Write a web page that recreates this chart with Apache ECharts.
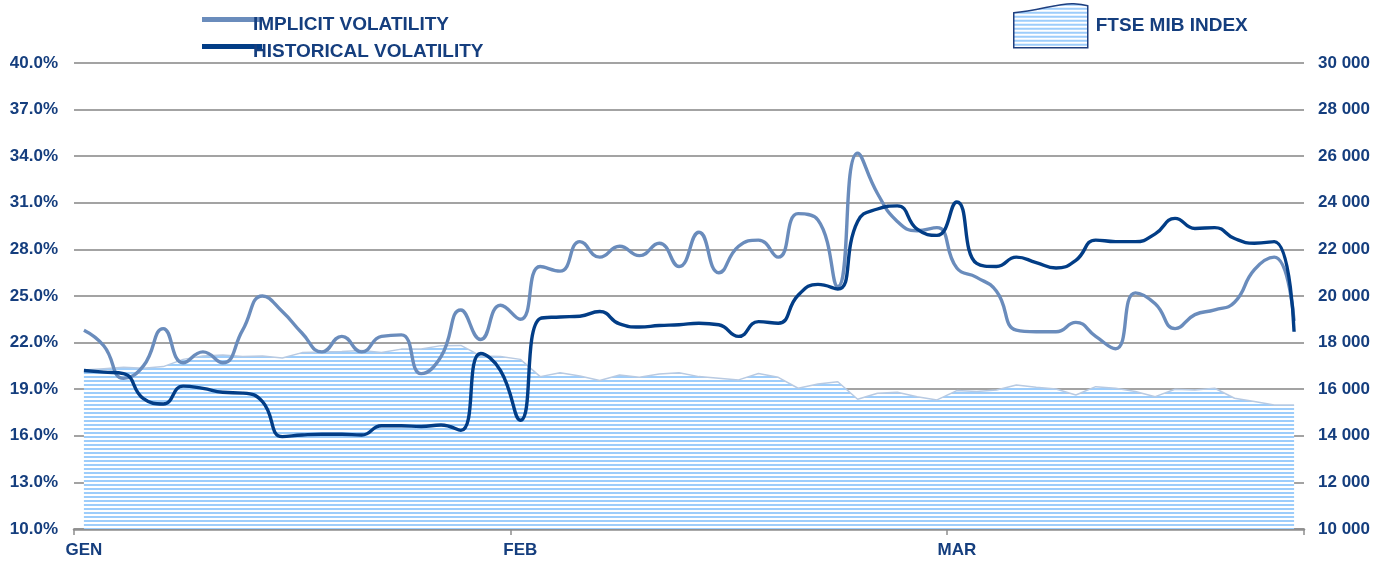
<!DOCTYPE html>
<html>
<head>
<meta charset="utf-8">
<script src="https://cdn.jsdelivr.net/npm/echarts@6/dist/echarts.min.js"></script>
<style>
  html, body { margin: 0; padding: 0; background: #ffffff; }
  #chart { width: 1385px; height: 561px; }
</style>
</head>
<body>
<div id="chart"></div>
<script>
// ---- data ----
const categories = [
  '02/01','03/01','04/01','05/01','06/01','09/01','10/01','11/01','12/01','13/01','16/01',
  '17/01','18/01','19/01','20/01','23/01','24/01','25/01','26/01','27/01','30/01','31/01',
  '01/02','02/02','03/02','06/02','07/02','08/02','09/02','10/02','13/02','14/02','15/02',
  '16/02','17/02','20/02','21/02','22/02','23/02','24/02','27/02','28/02','29/02',
  '01/03','02/03','05/03','06/03','07/03','08/03','09/03','12/03','13/03','14/03','15/03',
  '16/03','19/03','20/03','21/03','22/03','23/03','26/03','27/03'
];
const monthLabels = ['GEN', 'FEB', 'MAR'];

const implicitVol = [
  22.8, 21.8, 19.7, 20.5, 22.9, 20.7, 21.4, 20.7, 22.8, 25.0, 24.0,
  22.6, 21.4, 22.4, 21.4, 22.4, 22.5, 20.0, 21.1, 24.1, 22.2, 24.4,
  23.5, 26.9, 26.6, 28.5, 27.5, 28.2, 27.6, 28.4, 26.9, 29.1, 26.5,
  28.2, 28.6, 27.5, 30.3, 29.9, 25.6, 34.2, 31.6, 29.8, 29.2,
  29.4, 26.8, 26.2, 25.3, 22.8, 22.7, 22.7, 23.3, 22.4, 21.6, 25.2,
  24.5, 22.9, 23.8, 24.1, 24.6, 26.7, 27.5, 23.4
];
const historicalVol = [
  20.2, 20.1, 20.0, 18.4, 18.05, 19.2, 19.05, 18.8, 18.75, 18.2, 15.95,
  16.05, 16.1, 16.1, 16.05, 16.65, 16.65, 16.6, 16.7, 16.35, 21.3, 20.2,
  17.0, 23.55, 23.65, 23.7, 24.0, 23.2, 23.0, 23.1, 23.15, 23.25, 23.15,
  22.4, 23.35, 23.25, 25.05, 25.75, 25.45, 29.8, 30.6, 30.8, 29.3,
  28.9, 31.05, 27.1, 26.9, 27.5, 27.15, 26.8, 27.3, 28.6, 28.5, 28.5,
  29.0, 30.0, 29.35, 29.4, 28.7, 28.4, 28.5, 22.7
];
const ftseMib = [
  16820, 16880, 16940, 16900, 16970, 17280, 17430, 17470, 17400, 17420, 17340,
  17570, 17600, 17620, 17660, 17580, 17720, 17730, 17870, 17880, 17430, 17400,
  17280, 16540, 16710, 16570, 16370, 16610, 16510, 16650, 16710, 16540, 16470,
  16400, 16670, 16510, 16040, 16220, 16320, 15570, 15830, 15870, 15680,
  15540, 15940, 15900, 15970, 16180, 16080, 16010, 15750, 16110, 16040, 15900,
  15680, 16000, 15970, 16040, 15610, 15470, 15320, 15320
];
const seriesNames = ['IMPLICIT VOLATILITY', 'HISTORICAL VOLATILITY', 'FTSE MIB INDEX'];

// ---- styles ----
const textColor = '#153e7e';
const fontFamily = '"Liberation Sans", Arial, sans-serif';
const implicitColor = '#6a8cbc';
const historicalColor = '#023d86';

const stripe = document.createElement('canvas');
stripe.width = 4; stripe.height = 4;
const sctx = stripe.getContext('2d');
sctx.fillStyle = '#ffffff';
sctx.fillRect(0, 0, 4, 4);
sctx.fillStyle = '#9dcdfb';
sctx.fillRect(0, 0, 4, 2);
const stripePattern = { image: stripe, repeat: 'repeat' };

const chart = echarts.init(document.getElementById('chart'), null, { renderer: 'canvas' });

const legendText = { color: textColor, fontFamily, fontWeight: 'bold', fontSize: 19 };
// line icon sitting in the upper part of its box
const lineIcon = 'path://M0,0L60,0L60,5L0,5Z M0,15L0,15';

chart.setOption({
  animation: false,
  backgroundColor: '#ffffff',
  grid: { left: 74, right: 81, top: 63, bottom: 32, containLabel: false },
  legend: [
    {
      data: [{ name: seriesNames[0], icon: lineIcon,
               itemStyle: { color: implicitColor, borderWidth: 0 } }],
      left: 197, top: 10, itemWidth: 60, itemHeight: 15,
      textStyle: Object.assign({ padding: [0, 0, 0, -14] }, legendText)
    },
    {
      data: [{ name: seriesNames[1], icon: lineIcon,
               itemStyle: { color: historicalColor, borderWidth: 0 } }],
      left: 197, top: 37, itemWidth: 60, itemHeight: 15,
      textStyle: Object.assign({ padding: [0, 0, 0, -14] }, legendText)
    },
    {
      data: [{
        name: seriesNames[2],
        icon: 'path://M0,90 C250,70 450,-10 600,0 C660,4 700,10 740,20 L740,440 L0,440 Z',
        itemStyle: { color: stripePattern, borderColor: '#1f3f7f', borderWidth: 1.5 }
      }],
      left: 1008, top: -2, itemWidth: 74, itemHeight: 44, symbolKeepAspect: false,
      textStyle: Object.assign({ padding: [0, 0, 0, 3] }, legendText)
    }
  ],
  xAxis: {
    type: 'category',
    data: categories,
    boundaryGap: true,
    axisLine: { show: true, lineStyle: { color: '#8f8f8f', width: 2.5 } },
    axisTick: { show: true, interval: 21, length: 6, lineStyle: { color: '#8f8f8f', width: 1.5 } },
    axisLabel: {
      interval: 21, margin: 13,
      color: textColor, fontFamily, fontWeight: 'bold', fontSize: 17,
      formatter: v => monthLabels[parseInt(v.split('/')[1], 10) - 1]
    },
    splitLine: { show: false }
  },
  yAxis: [
    {
      type: 'value', position: 'left', min: 10, max: 40, interval: 3,
      axisLine: { show: false }, axisTick: { show: false },
      axisLabel: {
        margin: 16, color: textColor, fontFamily, fontWeight: 'bold', fontSize: 17,
        formatter: v => v.toFixed(1) + '%'
      },
      splitLine: { show: true, lineStyle: { color: '#a3a3a3', width: 2 } }
    },
    {
      type: 'value', position: 'right', min: 10000, max: 30000, interval: 2000,
      axisLine: { show: false }, axisTick: { show: false },
      axisLabel: {
        margin: 14, color: textColor, fontFamily, fontWeight: 'bold', fontSize: 17,
        formatter: v => String(v).replace(/\B(?=(\d{3})+(?!\d))/g, ' ')
      },
      splitLine: { show: false }
    }
  ],
  series: [
    {
      name: seriesNames[2], type: 'line', yAxisIndex: 1, data: ftseMib,
      smooth: false, showSymbol: false, symbol: 'none',
      lineStyle: { color: '#b8cae2', width: 1.5 },
      itemStyle: { color: stripePattern },
      areaStyle: { color: stripePattern, opacity: 1, origin: 'start' },
      z: 1
    },
    {
      name: seriesNames[0], type: 'line', yAxisIndex: 0, data: implicitVol,
      smooth: 0.5, showSymbol: false, symbol: 'none',
      lineStyle: { color: implicitColor, width: 3.4 },
      itemStyle: { color: implicitColor },
      z: 3
    },
    {
      name: seriesNames[1], type: 'line', yAxisIndex: 0, data: historicalVol,
      smooth: 0.5, showSymbol: false, symbol: 'none',
      lineStyle: { color: historicalColor, width: 3.4 },
      itemStyle: { color: historicalColor },
      z: 4
    }
  ]
});
</script>
</body>
</html>
